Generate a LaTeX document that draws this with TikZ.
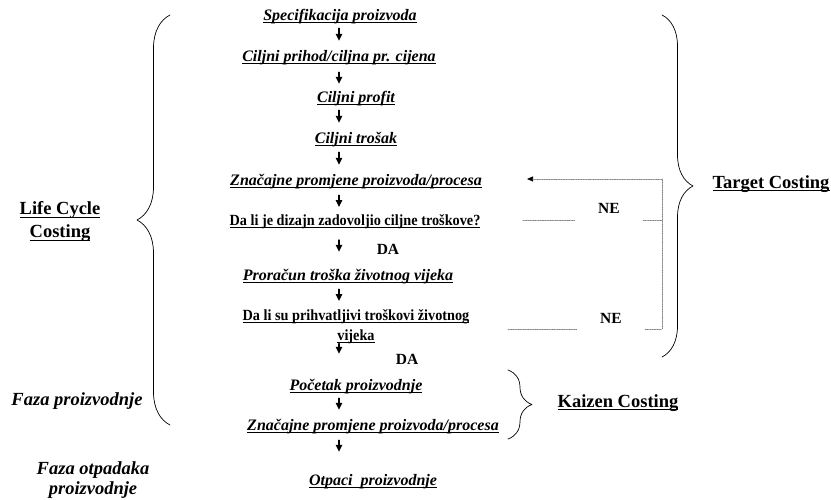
\documentclass[tikz,border=0pt]{standalone}
\usepackage{fontspec}
\setmainfont{Liberation Serif}
\newfontfamily\narrowserif[FakeStretch=0.92]{Liberation Serif}
\newsavebox{\ulbox}
\newcommand{\undl}[1]{\sbox{\ulbox}{#1}\rlap{\rule[-2.6pt]{\wd\ulbox}{0.9pt}}\usebox{\ulbox}}
\usetikzlibrary{arrows.meta,calc,decorations.pathreplacing}
\tikzset{
	stepbox/.style={inner sep=0pt, text height=11.5pt, text depth=4.5pt,
			font=\fontsize{16}{19}\selectfont\bfseries\itshape},
	question/.style={inner sep=0pt, text height=11pt, text depth=4.5pt,
			font=\fontsize{15.5}{18}\selectfont\narrowserif\bfseries},
	answer/.style={inner sep=0pt, font=\fontsize{15.5}{18}\selectfont\bfseries},
	phase/.style={inner sep=0pt, align=center, font=\fontsize{18.5}{23}\selectfont\bfseries},
	flow/.style={->, line width=1.2pt},
	feedback/.style={densely dotted, gray, line width=0.7pt},
	curly/.style={decorate, decoration={brace, amplitude=#1}, line width=0.7pt}
}

\begin{document}
\begin{tikzpicture}[x=1pt, y=-1pt, line cap=round, line join=round, >={Triangle[length=7pt,width=6.5pt]}]
	\useasboundingbox (0,0) rectangle (831,500);
	\coordinate (ax) at (339,0);

	% Steps of the process
	\node[stepbox] (spec) at (340,17) {\undl{Specifikacija proizvoda}};
	\node[stepbox] (prihod) at (339,58) {\undl{Ciljni prihod/ciljna pr. cijena}};
	\node[stepbox] (profit) at (356,99) {\undl{Ciljni profit}};
	\node[stepbox] (trosak) at (356,140) {\undl{Ciljni trošak}};
	\node[stepbox] (promjene) at (356,182) {\undl{Značajne promjene proizvoda/procesa}};
	\node[question] (dizajn) at (355,222) {\undl{Da li je dizajn zadovoljio ciljne troškove?}};
	\node[answer] (da1) at (388,249) {DA};
	\node[stepbox] (proracun) at (348,277) {\undl{Proračun troška životnog vijeka}};
	\node[question, text height=, text depth=, align=center, anchor=north] (prihv) at (356,309)
		{\undl{Da li su prihvatljivi troškovi životnog}\\[2pt]\undl{vijeka}};
	\node[answer] (da2) at (407,359) {DA};
	\node[stepbox] (pocetak) at (356,387) {\undl{Početak proizvodnje}};
	\node[stepbox] (promjene2) at (373,427) {\undl{Značajne promjene proizvoda/procesa}};
	\node[stepbox] (otpaci) at (373,482) {\undl{Otpaci\ \ proizvodnje}};

	% Arrows between steps
	\draw[flow, shorten <=3pt, shorten >=9pt] (spec.south -| ax) -- (prihod.north -| ax);
	\draw[flow, shorten <=6pt, shorten >=7pt] (prihod.south -| ax) -- (profit.north -| ax);
	\draw[flow, shorten <=3pt, shorten >=9pt] (profit.south -| ax) -- (trosak.north -| ax);
	\draw[flow, shorten <=4pt, shorten >=9pt] (trosak.south -| ax) -- (promjene.north -| ax);
	\draw[flow, shorten <=5pt, shorten >=7pt] (promjene.south -| ax) -- (dizajn.north -| ax);
	\draw[flow, shorten <=10pt, shorten >=17pt] (dizajn.south -| ax) -- (proracun.north -| ax);
	\draw[flow, shorten <=4pt, shorten >=8pt] (proracun.south -| ax) -- (prihv.north -| ax);
	\draw[flow, shorten <=0pt, shorten >=25pt] (prihv.south -| ax) -- (pocetak.north -| ax);
	\draw[flow, shorten <=3pt, shorten >=9pt] (pocetak.south -| ax) -- (promjene2.north -| ax);
	\draw[flow, shorten <=5pt, shorten >=22pt] (promjene2.south -| ax) -- (otpaci.north -| ax);

	% Feedback loop (NE)
	\node[answer, minimum width=68pt] (ne1) at (609,208) {NE};
	\node[answer, minimum width=68pt] (ne2) at (611,318) {NE};
	\coordinate (back) at (527,179);
	\coordinate (top) at (662,179);
	\coordinate (mid) at (662,220);
	\coordinate (bot) at (662,329);
	\coordinate (from1) at (523,220);
	\coordinate (from2) at (508,329);
	\draw[feedback] (from1) -- (from1 -| ne1.west);
	\draw[feedback] (mid -| ne1.east) -- (mid);
	\draw[feedback] (from2) -- (from2 -| ne2.west);
	\draw[feedback] (bot -| ne2.east) -- (bot) -- (top);
	\draw[feedback, -{Triangle[length=6pt,width=5pt,black]}] (top) -- (back);

	% Braces
	\draw[curly=33pt] (170,425) -- (170,15);
	\draw[curly=31pt] (662,15) -- (662,357);
	\draw[curly=24pt] (508,370) -- (508,439);

	% Labels on the sides
	\node[phase] (life) at (60,222) {\undl{Life Cycle}\\\undl{Costing}};
	\node[phase] (target) at (771,184) {\undl{Target\ Costing}};
	\node[phase] (kaizen) at (618,403) {\undl{Kaizen Costing}};
	\node[phase, font=\fontsize{18.5}{20}\selectfont\bfseries\itshape] (faza1) at (77,401) {Faza proizvodnje};
	\node[phase, font=\fontsize{18.5}{20}\selectfont\bfseries\itshape] (faza2) at (93,480) {Faza otpadaka\\proizvodnje};
\end{tikzpicture}
\end{document}
